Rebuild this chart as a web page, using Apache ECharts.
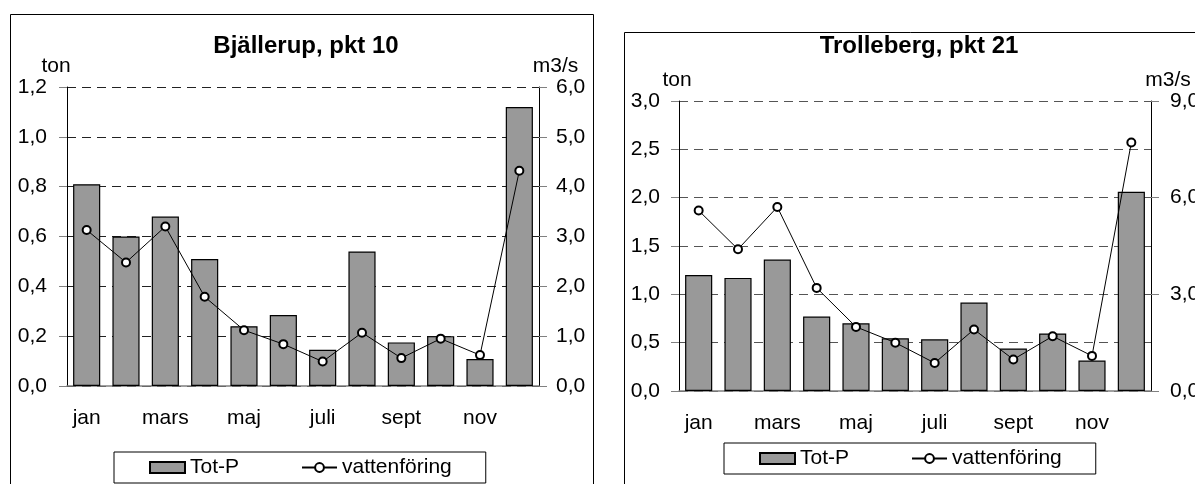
<!DOCTYPE html>
<html>
<head>
<meta charset="utf-8">
<script src="https://cdn.jsdelivr.net/npm/echarts@6/dist/echarts.min.js"></script>
<style>
  html, body { margin: 0; padding: 0; background: #fff; }
  #chart { width: 1195px; height: 484px; }
</style>
</head>
<body>
<div id="chart"></div>
<script>
// Monthly categories (only every second one is labelled on the axis)
const months = ['jan', 'feb', 'mars', 'april', 'maj', 'juni', 'juli', 'aug', 'sept', 'okt', 'nov', 'dec'];

// Bjällerup, pkt 10
const bjTotP = [0.81, 0.60, 0.68, 0.51, 0.24, 0.285, 0.145, 0.54, 0.175, 0.20, 0.108, 1.12];   // ton
const bjFlow = [3.13, 2.48, 3.20, 1.79, 1.12, 0.84, 0.49, 1.07, 0.56, 0.95, 0.62, 4.32];       // m3/s

// Trolleberg, pkt 21
const trTotP = [1.20, 1.17, 1.36, 0.77, 0.70, 0.545, 0.535, 0.915, 0.44, 0.595, 0.315, 2.06]; // ton
const trFlow = [5.60, 4.40, 5.71, 3.20, 1.99, 1.50, 0.87, 1.91, 0.98, 1.70, 1.09, 7.71];       // m3/s

const FONT = 'Liberation Sans, Arial, sans-serif';
const FS = 21;
const fmt = v => v.toFixed(1).replace('.', ',');

function yAxisDef(gridIndex, side, max, interval, name, namePad, margin, gridColor) {
  return {
    type: 'value', gridIndex, position: side, min: 0, max, interval,
    name, nameLocation: 'end', nameGap: 10,
    nameTextStyle: { fontFamily: FONT, fontSize: FS, color: '#000', padding: namePad },
    axisLine: { show: true, lineStyle: { color: '#000', width: 1 } },
    axisTick: { show: true, inside: false, length: 8, lineStyle: { color: '#808080' } },
    axisLabel: { fontFamily: FONT, fontSize: FS, color: '#000', margin, formatter: fmt },
    splitLine: { show: !!gridColor, lineStyle: { color: gridColor || '#000', type: [9, 6], width: 1 } }
  };
}

function xAxisDef(gridIndex) {
  return {
    type: 'category', gridIndex, data: months,
    axisLine: { show: true, onZero: false, lineStyle: { color: '#808080', width: 1.5 } },
    axisTick: { show: false },
    axisLabel: { interval: 1, fontFamily: FONT, fontSize: FS, color: '#000', margin: 22 }
  };
}

function legendDef(left, top) {
  return {
    left, top, orient: 'horizontal', itemWidth: 35, itemHeight: 11, itemGap: 62,
    padding: [5, 34, 5, 35], borderColor: '#000', borderWidth: 1, backgroundColor: '#fff',
    textStyle: { fontFamily: FONT, fontSize: FS, color: '#000' },
    data: [{ name: 'Tot-P', icon: 'rect' }, { name: 'vattenföring' }]
  };
}

const barStyle = { color: '#999999', borderColor: '#000', borderWidth: 1.2 };
const lineStyle = { color: '#000', width: 1 };
const pointStyle = { color: '#000', borderWidth: 1.2 };
const titleStyle = { fontFamily: FONT, fontSize: 24, fontWeight: 'bold', color: '#000' };

const option = {
  animation: false,
  backgroundColor: '#fff',
  graphic: [
    // chart frames
    { type: 'rect', shape: { x: 10.5, y: 14.5, width: 583, height: 520 }, style: { fill: 'none', stroke: '#000', lineWidth: 1 } },
    { type: 'rect', shape: { x: 624.5, y: 32.5, width: 620, height: 520 }, style: { fill: 'none', stroke: '#000', lineWidth: 1 } }
  ],
  title: [
    { text: 'Bjällerup, pkt 10', left: 301, top: 29, textAlign: 'center', textStyle: titleStyle },
    { text: 'Trolleberg, pkt 21', left: 914, top: 29, textAlign: 'center', textStyle: titleStyle }
  ],
  legend: [legendDef(114, 452), legendDef(724, 443)],
  grid: [
    { left: 67, top: 87, width: 472, height: 299, outerBoundsMode: 'none', containLabel: false },
    { left: 679, top: 101, width: 472, height: 290, outerBoundsMode: 'none', containLabel: false }
  ],
  xAxis: [xAxisDef(0), xAxisDef(1)],
  yAxis: [
    yAxisDef(0, 'left', 1.2, 0.2, 'ton', [0, 22, 0, 0], 20, '#222'),
    yAxisDef(0, 'right', 6, 1, 'm3/s', [0, 0, 0, 33], 17, null),
    yAxisDef(1, 'left', 3, 0.5, 'ton', [0, 4, 0, 0], 19, '#555'),
    yAxisDef(1, 'right', 9, 3, 'm3/s', [0, 0, 0, 34], 19, null)
  ],
  series: [
    { name: 'Tot-P', type: 'bar', xAxisIndex: 0, yAxisIndex: 0, data: bjTotP, barWidth: '69%', itemStyle: barStyle },
    { name: 'vattenföring', type: 'line', xAxisIndex: 0, yAxisIndex: 1, data: bjFlow,
      symbol: 'emptyCircle', symbolSize: 8, lineStyle, itemStyle: pointStyle },
    { name: 'Tot-P', type: 'bar', xAxisIndex: 1, yAxisIndex: 2, data: trTotP, barWidth: '69%', itemStyle: barStyle },
    { name: 'vattenföring', type: 'line', xAxisIndex: 1, yAxisIndex: 3, data: trFlow,
      symbol: 'emptyCircle', symbolSize: 8, lineStyle, itemStyle: pointStyle }
  ]
};

const chart = echarts.init(document.getElementById('chart'), null, { renderer: 'canvas' });
chart.setOption(option);
</script>
</body>
</html>
